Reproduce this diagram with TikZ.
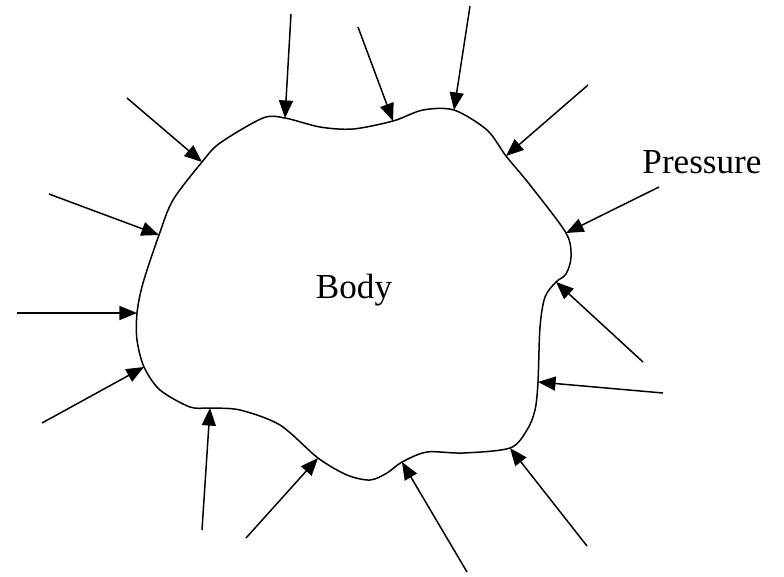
\documentclass[tikz,border=0pt]{standalone}
\usepackage{fontspec}
\setmainfont{Liberation Serif}
\usepackage{tikz}
\usetikzlibrary{arrows.meta}

\begin{document}
\begin{tikzpicture}[
    x=0.02cm, y=-0.02cm,
    font=\fontsize{20}{24}\selectfont,
    body/.style={draw=black, line width=0.85pt},
    force/.style={-{Triangle[length=10pt, width=8pt]}, line width=0.85pt},
    lbl/.style={inner sep=0pt}
]
\useasboundingbox (0,0) rectangle (784,576);

% 1. Contact points on the body
\coordinate (t1) at (202,162);
\coordinate (t2) at (285,118);
\coordinate (t3) at (393,121);
\coordinate (t4) at (454,110);
\coordinate (t5) at (506,156);
\coordinate (t6) at (566,233);
\coordinate (t7) at (556,282);
\coordinate (t8) at (538,382);
\coordinate (t9) at (510,448);
\coordinate (t10) at (402,462);
\coordinate (t11) at (318,458);
\coordinate (t12) at (210,408);
\coordinate (t13) at (144,367);
\coordinate (t14) at (137,313);
\coordinate (t15) at (159,235);

% 2. Outer ends of the pressure arrows
\coordinate (s1) at (127,98);
\coordinate (s2) at (291,14);
\coordinate (s3) at (358,27);
\coordinate (s4) at (470,6);
\coordinate (s5) at (588,85);
\coordinate (s6) at (659,187);
\coordinate (s7) at (643,362);
\coordinate (s8) at (663,393);
\coordinate (s9) at (587,546);
\coordinate (s10) at (467,572);
\coordinate (s11) at (246,538);
\coordinate (s12) at (202,530);
\coordinate (s13) at (42,423);
\coordinate (s14) at (17,313);
\coordinate (s15) at (49,194);

% 3. Body outline
\draw[body] plot[smooth cycle, tension=0.5] coordinates {
    (t1) (220,143) (263,118) (t2) (320,127) (353,129) (t3) (423,110) (t4)
    (487,130) (t5) (530,185) (t6) (571,257) (566,274) (t7) (545,297)
    (540,327) (t8) (535,410) (527,430) (t9) (463,453) (427,452) (t10)
    (387,473) (370,480) (347,475) (t11) (280,425) (240,410) (t12)
    (190,407) (160,390) (t13) (137,340) (t14) (143,283) (t15) (173,200)};

% 4. Pressure arrows
\draw[force] (s1) -- (t1);
\draw[force] (s2) -- (t2);
\draw[force] (s3) -- (t3);
\draw[force] (s4) -- (t4);
\draw[force] (s5) -- (t5);
\draw[force] (s6) -- (t6);
\draw[force] (s7) -- (t7);
\draw[force] (s8) -- (t8);
\draw[force] (s9) -- (t9);
\draw[force] (s10) -- (t10);
\draw[force] (s11) -- (t11);
\draw[force] (s12) -- (t12);
\draw[force] (s13) -- (t13);
\draw[force] (s14) -- (t14);
\draw[force] (s15) -- (t15);

% 5. Labels
\node[lbl] (bodylbl) at (354,290) {Body};
\node[lbl] (preslbl) at (702,162) {Pressure};

\end{tikzpicture}
\end{document}
